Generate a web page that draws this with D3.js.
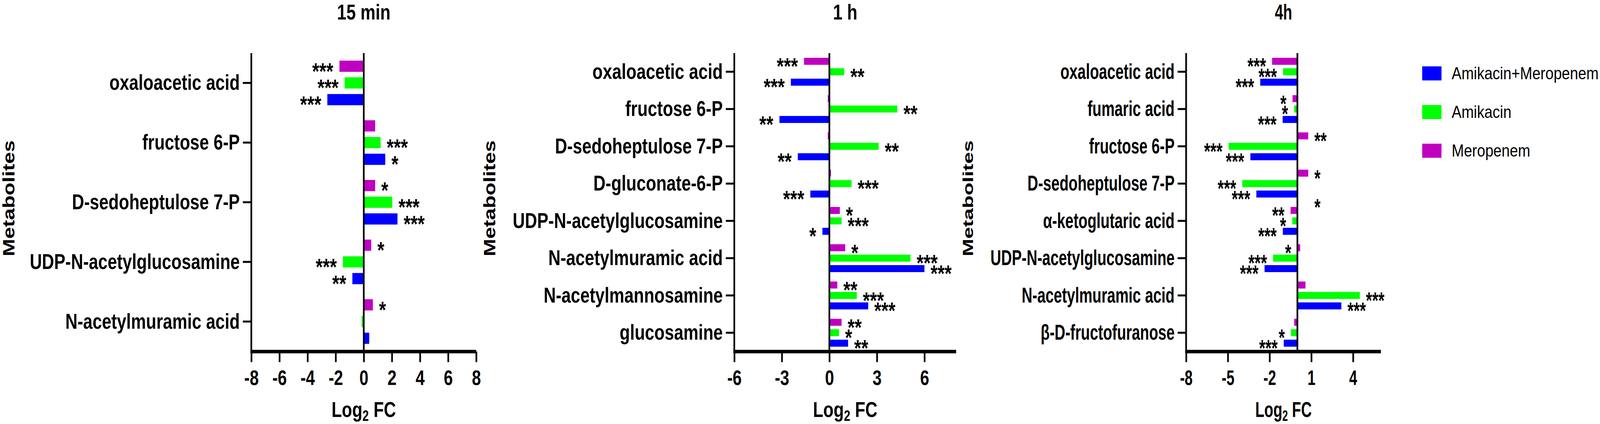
<!DOCTYPE html>
<html>
<head>
<meta charset="utf-8">
<script src="https://cdn.jsdelivr.net/npm/d3@7"></script>
<style>
  html, body { margin: 0; padding: 0; background: #fff; overflow: hidden; }
  svg { display: block; width: 100vw; height: 100vh; }
  text { font-family: "Liberation Sans", Arial, sans-serif; }
</style>
</head>
<body>
<script>
// series (legend order) and colours
var seriesNames = ["Amikacin+Meropenem", "Amikacin", "Meropenem"];
var seriesColors = ["#0000ff", "#00ff00", "#c000c0"];
// order of the bars inside a group, top to bottom
var drawOrder = ["Meropenem", "Amikacin", "Amikacin+Meropenem"];

// ---- 15 min
var cats15 = ["oxaloacetic acid", "fructose 6-P", "D-sedoheptulose 7-P",
              "UDP-N-acetylglucosamine", "N-acetylmuramic acid"];
var combo15 = [-2.59, 1.53, 2.40, -0.81, 0.39];
var ami15   = [-1.36, 1.20, 2.03, -1.48, -0.15];
var mero15  = [-1.73, 0.81, 0.81, 0.53, 0.65];
var starsCombo15 = ["***", "*", "***", "**", ""];
var starsAmi15   = ["***", "***", "***", "***", ""];
var starsMero15  = ["***", "", "*", "*", "*"];
var ticks15 = [-8, -6, -4, -2, 0, 2, 4, 6, 8];

// ---- 1 h
var cats1h = ["oxaloacetic acid", "fructose 6-P", "D-sedoheptulose 7-P", "D-gluconate-6-P",
              "UDP-N-acetylglucosamine", "N-acetylmuramic acid", "N-acetylmannosamine", "glucosamine"];
var combo1h = [-2.43, -3.15, -1.99, -1.20, -0.44, 6.00, 2.45, 1.18];
var ami1h   = [0.94, 4.29, 3.11, 1.40, 0.77, 5.12, 1.73, 0.61];
var mero1h  = [-1.60, -0.10, -0.10, 0.10, 0.66, 1.00, 0.50, 0.77];
var starsCombo1h = ["***", "**", "**", "***", "*", "***", "***", "**"];
var starsAmi1h   = ["**", "**", "**", "***", "***", "***", "***", "*"];
var starsMero1h  = ["***", "", "", "", "*", "*", "**", "**"];
var ticks1h = [-6, -3, 0, 3, 6];

// ---- 4h
var cats4h = ["oxaloacetic acid", "fumaric acid", "fructose 6-P", "D-sedoheptulose 7-P",
              "α-ketoglutaric acid", "UDP-N-acetylglucosamine", "N-acetylmuramic acid", "β-D-fructofuranose"];
var combo4h = [-2.67, -1.06, -3.38, -2.95, -1.05, -2.36, 3.16, -0.98];
var ami4h   = [-1.03, -0.23, -4.94, -3.96, -0.37, -1.75, 4.49, -0.46];
var mero4h  = [-1.82, -0.35, 0.78, 0.78, -0.49, 0.20, 0.58, -0.23];
var starsCombo4h = ["***", "***", "***", "***", "***", "***", "***", "***"];
var starsAmi4h   = ["***", "*", "***", "***", "*", "***", "***", "*"];
var starsMero4h  = ["***", "*", "**", "*", "**", "*", "", ""];
var ticks4h = [-8, -5, -2, 1, 4];
// star written on the negative side although the bar is positive
var leftStars4h = [{cat: "UDP-N-acetylglucosamine", series: "Meropenem"}];
// loose star sitting between two groups
var looseStars4h = [{cat: "D-sedoheptulose 7-P", value: 0.78, label: "*"}];

var W = 4724, H = 1086;
var plotTop = 136, plotBottom = 900;

// sq = horizontal squeeze of the bold text in each panel
var panels = [
  {title: "15 min", cats: cats15, domain: [-8, 8], ticks: ticks15, range: [742, 1406], ylabX: 26, sq: 0.89,
   values: {"Amikacin+Meropenem": combo15, "Amikacin": ami15, "Meropenem": mero15},
   stars: {"Amikacin+Meropenem": starsCombo15, "Amikacin": starsAmi15, "Meropenem": starsMero15},
   left: [], loose: []},
  {title: "1 h", cats: cats1h, domain: [-6, 8], ticks: ticks1h, range: [2168, 2823], ylabX: 1445, sq: 0.89,
   values: {"Amikacin+Meropenem": combo1h, "Amikacin": ami1h, "Meropenem": mero1h},
   stars: {"Amikacin+Meropenem": starsCombo1h, "Amikacin": starsAmi1h, "Meropenem": starsMero1h},
   left: [], loose: []},
  {title: "4h", cats: cats4h, domain: [-8, 6], ticks: ticks4h, range: [3502, 4077], ylabX: 2858, sq: 0.78,
   values: {"Amikacin+Meropenem": combo4h, "Amikacin": ami4h, "Meropenem": mero4h},
   stars: {"Amikacin+Meropenem": starsCombo4h, "Amikacin": starsAmi4h, "Meropenem": starsMero4h},
   left: leftStars4h, loose: looseStars4h}
];

var color = d3.scaleOrdinal().domain(seriesNames).range(seriesColors);

// the drawing fills whatever viewport the page gets
var svg = d3.select("body").append("svg")
  .attr("viewBox", "0 0 " + W + " " + H)
  .attr("preserveAspectRatio", "none");

var starSize = 60, starGap = 18;

panels.forEach(function (p) {
  var SQ = p.sq;
  var x = d3.scaleLinear().domain(p.domain).range(p.range);
  var y0 = d3.scaleBand().domain(p.cats).range([plotTop, plotBottom])
    .paddingInner(0.16).paddingOuter(0.08);
  var y1 = d3.scaleBand().domain(drawOrder).range([0, y0.bandwidth()])
    .paddingInner(0.33).paddingOuter(0.165);
  var cx = (p.range[0] + p.range[1]) / 2;

  var rows = [];
  p.cats.forEach(function (c, i) {
    drawOrder.forEach(function (s) {
      var isLeft = p.left.some(function (l) { return l.cat === c && l.series === s; });
      rows.push({cat: c, series: s, value: p.values[s][i], stars: p.stars[s][i], left: isLeft});
    });
  });

  var g = svg.append("g");

  // bars
  g.selectAll(".bar").data(rows).enter().append("rect")
    .attr("class", "bar")
    .attr("x", function (d) { return Math.min(x(0), x(d.value)); })
    .attr("width", function (d) { return Math.abs(x(d.value) - x(0)); })
    .attr("y", function (d) { return y0(d.cat) + y1(d.series); })
    .attr("height", y1.bandwidth())
    .attr("fill", function (d) { return color(d.series); });

  // zero line
  g.append("line")
    .attr("x1", x(0)).attr("x2", x(0))
    .attr("y1", plotTop).attr("y2", plotBottom)
    .attr("stroke", "#000").attr("stroke-width", 5);

  // significance stars
  function starX(d) {
    if (d.left) return x(0) - starGap;
    return d.value < 0 ? x(d.value) - starGap : x(d.value) + starGap;
  }
  g.selectAll(".star").data(rows.filter(function (d) { return d.stars; })).enter().append("text")
    .attr("class", "star")
    .attr("text-anchor", function (d) { return (d.left || d.value < 0) ? "end" : "start"; })
    .attr("font-size", starSize).attr("font-weight", "bold")
    .attr("transform", function (d) {
      var yy = y0(d.cat) + y1(d.series) + y1.bandwidth() / 2 + 0.55 * starSize;
      return "translate(" + starX(d) + "," + yy + ") scale(" + SQ + ",1)";
    })
    .text(function (d) { return d.stars; });

  g.selectAll(".loose").data(p.loose).enter().append("text")
    .attr("font-size", starSize).attr("font-weight", "bold")
    .attr("transform", function (d) {
      var yy = y0(d.cat) + y0.bandwidth() / 2 + y0.step() / 2 + 0.55 * starSize;
      return "translate(" + (x(d.value) + starGap) + "," + yy + ") scale(" + SQ + ",1)";
    })
    .text(function (d) { return d.label; });

  // y axis
  var yAxis = g.append("g")
    .attr("transform", "translate(" + p.range[0] + ",0)")
    .call(d3.axisLeft(y0).tickSize(25).tickPadding(9).tickSizeOuter(0));
  yAxis.select(".domain").remove();
  yAxis.selectAll(".tick line").attr("stroke", "#000").attr("stroke-width", 5);
  yAxis.selectAll(".tick text")
    .attr("font-size", 56).attr("font-weight", "bold").attr("fill", "#000")
    .attr("x", -34 / SQ).attr("transform", "scale(" + SQ + ",1)");
  g.append("line")
    .attr("x1", p.range[0]).attr("x2", p.range[0])
    .attr("y1", plotTop).attr("y2", plotBottom + 4.5)
    .attr("stroke", "#000").attr("stroke-width", 5);

  // x axis
  var xAxis = g.append("g")
    .attr("transform", "translate(0," + (plotBottom + 0.5) + ")")
    .call(d3.axisBottom(x).tickValues(p.ticks).tickSize(27).tickPadding(20)
      .tickSizeOuter(0).tickFormat(function (d) { return String(d); }));
  xAxis.select(".domain").remove();
  xAxis.selectAll(".tick line").attr("stroke", "#000").attr("stroke-width", 5);
  xAxis.selectAll(".tick text")
    .attr("font-size", 54).attr("font-weight", "bold").attr("fill", "#000")
    .attr("transform", "scale(" + SQ + ",1)");
  g.append("line")
    .attr("x1", p.range[0] - 2.5).attr("x2", p.range[1])
    .attr("y1", plotBottom + 0.5).attr("y2", plotBottom + 0.5)
    .attr("stroke", "#000").attr("stroke-width", 9);

  // panel title
  g.append("text")
    .attr("text-anchor", "middle").attr("font-size", 56).attr("font-weight", "bold")
    .attr("transform", "translate(" + cx + ",50) scale(" + SQ + ",1)")
    .text(p.title);

  // x title
  var xt = g.append("text")
    .attr("text-anchor", "middle").attr("font-size", 56).attr("font-weight", "bold")
    .attr("transform", "translate(" + cx + ",1068) scale(" + SQ + ",1)");
  xt.append("tspan").text("Log");
  xt.append("tspan").attr("font-size", 38).attr("dy", 10).text("2");
  xt.append("tspan").attr("dy", -10).text(" FC");

  // y title
  g.append("text")
    .attr("text-anchor", "middle").attr("font-size", 54).attr("font-weight", "bold")
    .attr("transform", "translate(" + (p.ylabX + 19 * SQ) + ",508) scale(" + SQ + ",1) rotate(-90)")
    .text("Metabolites");
});

// legend
var legend = svg.append("g").attr("transform", "translate(4199,188)");
var item = legend.selectAll(".item").data(seriesNames).enter().append("g")
  .attr("transform", function (d, i) { return "translate(0," + (i * 99) + ")"; });
item.append("rect")
  .attr("x", 0).attr("y", -18).attr("width", 57).attr("height", 36)
  .attr("fill", function (d) { return color(d); });
item.append("text")
  .attr("x", 87).attr("y", 15).attr("font-size", 43.5)
  .text(function (d) { return d; });
</script>
</body>
</html>
